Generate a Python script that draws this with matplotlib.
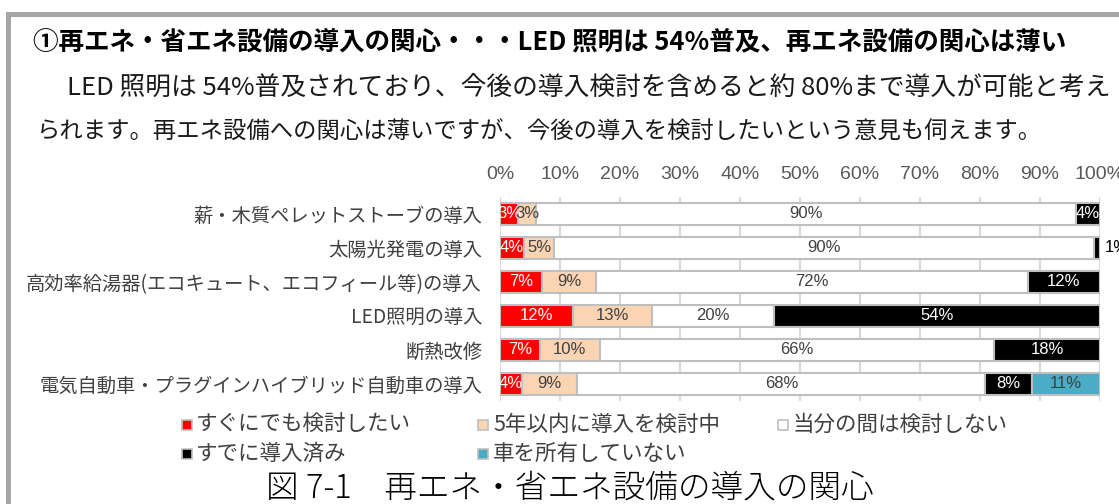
import matplotlib
matplotlib.use("Agg")
import matplotlib.pyplot as plt
from matplotlib import font_manager
from matplotlib.patches import Rectangle

plt.rcParams['font.family'] = ['Noto Sans CJK JP', 'DejaVu Sans']

# ---- data ----
categories = [
    "薪・木質ペレットストーブの導入",
    "太陽光発電の導入",
    "高効率給湯器(エコキュート、エコフィール等)の導入",
    "LED照明の導入",
    "断熱改修",
    "電気自動車・プラグインハイブリッド自動車の導入",
]
series_names = ["すぐにでも検討したい", "5年以内に導入を検討中", "当分の間は検討しない",
                "すでに導入済み", "車を所有していない"]
soon = [3.0, 4.0, 7.0, 12.2, 6.6, 3.6]
within5 = [3.0, 5.0, 9.0, 13.1, 10.0, 9.3]
not_now = [90.0, 90.0, 72.0, 20.4, 65.8, 68.0]
done = [4.0, 1.0, 12.0, 54.3, 17.6, 7.8]
no_car = [0.0, 0.0, 0.0, 0.0, 0.0, 11.3]
tick_values = [0, 10, 20, 30, 40, 50, 60, 70, 80, 90, 100]
tick_labels = ["0%", "10%", "20%", "30%", "40%", "50%", "60%", "70%", "80%", "90%", "100%"]

series = [soon, within5, not_now, done, no_car]
colors = ["#ff0000", "#fbd4b4", "#ffffff", "#000000", "#4bacc6"]
text_colors = ["white", "#404040", "#404040", "white", "#404040"]

names = {f.name for f in font_manager.fontManager.ttflist}
narrow = 'Liberation Sans Narrow' if 'Liberation Sans Narrow' in names else 'Liberation Sans'

W, H = 1119, 504
fig = plt.figure(figsize=(W / 100, H / 100), dpi=100)
fig.patch.set_facecolor("white")


def fx(x):
    return x / W


def fy(y):
    return 1 - y / H


# frame lines of the text box
fig.add_artist(Rectangle((fx(6), fy(504)), fx(5), fy(12) - fy(504),
                         transform=fig.transFigure, color="#a6a6a6", lw=0))
fig.add_artist(Rectangle((fx(6), fy(17)), 1, fy(12) - fy(17),
                         transform=fig.transFigure, color="#a6a6a6", lw=0))

# heading and body text
fig.text(fx(33), fy(42), "①再エネ・省エネ設備の導入の関心・・・LED 照明は 54%普及、再エネ設備の関心は薄い",
         fontsize=18.4, fontweight="bold", color="black", va="center", ha="left")
fig.text(fx(67), fy(88), "LED 照明は 54%普及されており、今後の導入検討を含めると約 80%まで導入が可能と考え",
         fontsize=18.5, color="#1a1a1a", va="center", ha="left")
fig.text(fx(37), fy(131), "られます。再エネ設備への関心は薄いですが、今後の導入を検討したいという意見も伺えます。",
         fontsize=16.8, color="#1a1a1a", va="center", ha="left")

# chart
ax = fig.add_axes([fx(500), fy(401), fx(600), fy(197) - fy(401)])
y = list(range(len(categories)))
left = [0.0] * len(categories)
for vals, col, tcol in zip(series, colors, text_colors):
    ax.barh(y, vals, left=left, height=0.62, color=col, edgecolor="#bfbfbf",
            linewidth=1.5, zorder=3)
    for i, v in enumerate(vals):
        if v <= 0:
            continue
        if v < 2:
            ax.text(100.8, i, f"{v:.0f}%", ha="left", va="center", color="black",
                    fontsize=12, family=narrow, zorder=4, clip_on=False)
        else:
            ax.text(left[i] + v / 2, i, f"{v:.0f}%", ha="center", va="center",
                    color=tcol, fontsize=12, family=narrow, zorder=4)
    left = [l + v for l, v in zip(left, vals)]

ax.set_xlim(0, 100)
ax.set_ylim(len(categories) - 0.5, -0.5)
ax.set_yticks(y)
ax.set_yticklabels(categories, fontsize=13.9, color="#404040")
ax.set_xticks(tick_values)
ax.set_xticklabels(tick_labels, fontsize=14, color="#595959", family=narrow)
ax.xaxis.tick_top()
ax.tick_params(axis="x", length=0, pad=10)
ax.tick_params(axis="y", length=0, pad=13)
ax.grid(axis="x", color="#d9d9d9", linewidth=1.5, zorder=0)
ax.set_axisbelow(True)
for s in ax.spines.values():
    s.set_visible(False)

# legend
leg_items = [
    (182, 425, 196, 0), (478, 425, 493, 1), (778, 425, 793, 2),
    (182, 454, 196, 3), (478, 454, 493, 4),
]
for sx, cy, tx, k in leg_items:
    fig.add_artist(Rectangle((fx(sx), fy(cy + 5)), fx(10), fy(cy - 5) - fy(cy + 5),
                             transform=fig.transFigure, facecolor=colors[k],
                             edgecolor="#bfbfbf", lw=1.2))
    fig.text(fx(tx), fy(cy), series_names[k], fontsize=15.5, color="#404040",
             va="center", ha="left")

# caption
fig.text(fx(570), fy(488), "図 7-1　再エネ・省エネ設備の導入の関心", fontsize=23.5,
         color="black", va="center", ha="center", fontweight="light")

fig.savefig("out.png", dpi=100)
